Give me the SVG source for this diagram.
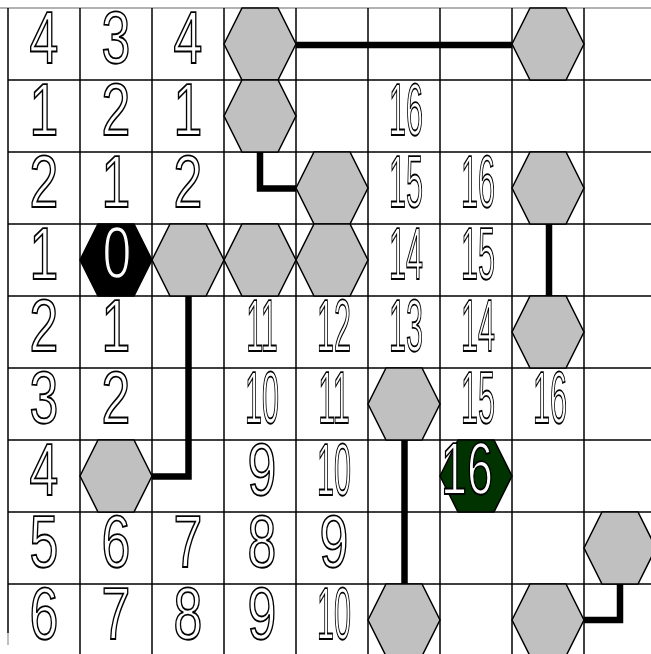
<svg xmlns="http://www.w3.org/2000/svg" xmlns:xlink="http://www.w3.org/1999/xlink" width="651" height="654" viewBox="0 0 651 654">
<style>
.grid line{stroke:#000;stroke-width:1.5}
.hx{fill:#c0c0c0;stroke:#000;stroke-width:1.5}
.hb{fill:#000;stroke:#000;stroke-width:1.5}
.hg{fill:#003300;stroke:#000;stroke-width:1.5}
text{font-family:"Liberation Sans",Arial,sans-serif;font-size:74px;fill:#fff;stroke:#000;stroke-width:1.9;text-anchor:middle;vector-effect:non-scaling-stroke;text-rendering:geometricPrecision}
.lbl{opacity:0.99}
.conn path{fill:none;stroke:#000;stroke-width:6.5;stroke-linejoin:miter;stroke-linecap:butt}
</style>
<defs>
<polygon id="hex" points="0,36 18,0 54,0 72,36 54,72 18,72"/>
</defs>
<rect x="0" y="0" width="651" height="654" fill="#fff"/>
<g class="grid">
<line x1="0" y1="8" x2="651" y2="8" style="stroke:#999;stroke-width:1.5"/>
<line x1="8" y1="8" x2="8" y2="633"/>
<line x1="8" y1="633" x2="8" y2="645" style="stroke:#aaa"/>
<line x1="80" y1="8" x2="80" y2="654"/>
<line x1="152" y1="8" x2="152" y2="654"/>
<line x1="224" y1="8" x2="224" y2="654"/>
<line x1="296" y1="8" x2="296" y2="654"/>
<line x1="368" y1="8" x2="368" y2="654"/>
<line x1="440" y1="8" x2="440" y2="654"/>
<line x1="512" y1="8" x2="512" y2="654"/>
<line x1="584" y1="8" x2="584" y2="654"/>
<line x1="8" y1="80" x2="651" y2="80"/>
<line x1="8" y1="152" x2="651" y2="152"/>
<line x1="8" y1="224" x2="651" y2="224"/>
<line x1="8" y1="296" x2="651" y2="296"/>
<line x1="8" y1="368" x2="651" y2="368"/>
<line x1="8" y1="440" x2="651" y2="440"/>
<line x1="8" y1="512" x2="651" y2="512"/>
<line x1="8" y1="584" x2="651" y2="584"/>
</g>
<g class="conn">
<path d="M296,45 H512"/>
<path d="M260,152 V188.5 H296"/>
<path d="M549,224 V296"/>
<path d="M188.5,296 V476.5 H152"/>
<path d="M404.5,440 V584"/>
<path d="M620,584 V620 H584"/>
</g>
<g id="hex-3-0"><use xlink:href="#hex" x="224" y="8" class="hx"/></g>
<g id="hex-7-0"><use xlink:href="#hex" x="512" y="8" class="hx"/></g>
<g id="hex-3-1"><use xlink:href="#hex" x="224" y="80" class="hx"/></g>
<g id="hex-4-2"><use xlink:href="#hex" x="296" y="152" class="hx"/></g>
<g id="hex-7-2"><use xlink:href="#hex" x="512" y="152" class="hx"/></g>
<g id="hex-2-3"><use xlink:href="#hex" x="152" y="224" class="hx"/></g>
<g id="hex-3-3"><use xlink:href="#hex" x="224" y="224" class="hx"/></g>
<g id="hex-4-3"><use xlink:href="#hex" x="296" y="224" class="hx"/></g>
<g id="hex-7-4"><use xlink:href="#hex" x="512" y="296" class="hx"/></g>
<g id="hex-5-5"><use xlink:href="#hex" x="368" y="368" class="hx"/></g>
<g id="hex-1-6"><use xlink:href="#hex" x="80" y="440" class="hx"/></g>
<g id="hex-8-7"><use xlink:href="#hex" x="584" y="512" class="hx"/></g>
<g id="hex-5-8"><use xlink:href="#hex" x="368" y="584" class="hx"/></g>
<g id="hex-7-8"><use xlink:href="#hex" x="512" y="584" class="hx"/></g>
<g id="start"><use xlink:href="#hex" x="80" y="224" class="hb"/><g class="lbl"><text transform="translate(117,278) scale(0.7,1)">0</text></g></g>
<g id="goal"><use xlink:href="#hex" x="440" y="440" class="hg"/><g class="lbl"><text transform="translate(467,494) scale(0.63,1)">16</text></g></g>
<g id="numbers" class="lbl">
<text transform="translate(44,63) scale(0.7,1)">4</text>
<text transform="translate(116,63) scale(0.7,1)">3</text>
<text transform="translate(188,63) scale(0.7,1)">4</text>
<text transform="translate(44,135) scale(0.7,1)">1</text>
<text transform="translate(116,135) scale(0.7,1)">2</text>
<text transform="translate(188,135) scale(0.7,1)">1</text>
<text transform="translate(406,135) scale(0.413,1)">16</text>
<text transform="translate(44,207) scale(0.7,1)">2</text>
<text transform="translate(116,207) scale(0.7,1)">1</text>
<text transform="translate(188,207) scale(0.7,1)">2</text>
<text transform="translate(406,207) scale(0.413,1)">15</text>
<text transform="translate(478,207) scale(0.413,1)">16</text>
<text transform="translate(44,279) scale(0.7,1)">1</text>
<text transform="translate(406,279) scale(0.413,1)">14</text>
<text transform="translate(478,279) scale(0.413,1)">15</text>
<text transform="translate(44,351) scale(0.7,1)">2</text>
<text transform="translate(116,351) scale(0.7,1)">1</text>
<text transform="translate(262,351) scale(0.413,1)">11</text>
<text transform="translate(334,351) scale(0.413,1)">12</text>
<text transform="translate(406,351) scale(0.413,1)">13</text>
<text transform="translate(478,351) scale(0.413,1)">14</text>
<text transform="translate(44,423) scale(0.7,1)">3</text>
<text transform="translate(116,423) scale(0.7,1)">2</text>
<text transform="translate(262,423) scale(0.413,1)">10</text>
<text transform="translate(334,423) scale(0.413,1)">11</text>
<text transform="translate(478,423) scale(0.413,1)">15</text>
<text transform="translate(550,423) scale(0.413,1)">16</text>
<text transform="translate(44,495) scale(0.7,1)">4</text>
<text transform="translate(262,495) scale(0.7,1)">9</text>
<text transform="translate(334,495) scale(0.413,1)">10</text>
<text transform="translate(44,567) scale(0.7,1)">5</text>
<text transform="translate(116,567) scale(0.7,1)">6</text>
<text transform="translate(188,567) scale(0.7,1)">7</text>
<text transform="translate(262,567) scale(0.7,1)">8</text>
<text transform="translate(334,567) scale(0.7,1)">9</text>
<text transform="translate(44,639) scale(0.7,1)">6</text>
<text transform="translate(116,639) scale(0.7,1)">7</text>
<text transform="translate(188,639) scale(0.7,1)">8</text>
<text transform="translate(262,639) scale(0.7,1)">9</text>
<text transform="translate(334,639) scale(0.413,1)">10</text>
</g>
</svg>
